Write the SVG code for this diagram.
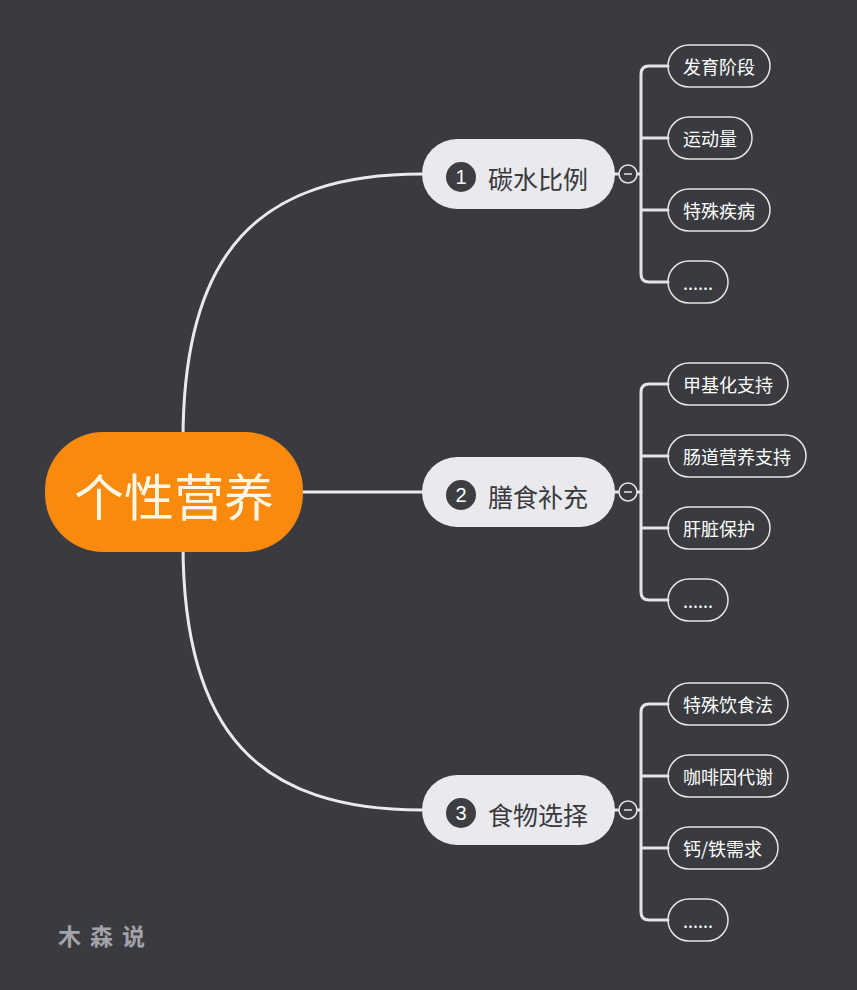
<svg xmlns="http://www.w3.org/2000/svg" width="857" height="990" viewBox="0 0 857 990">
<style>
.bg{fill:#3a3b40}
.link{fill:none;stroke:#e9e9ee;stroke-width:3;stroke-linecap:round}
.br{fill:none;stroke:#e4e4e8;stroke-width:3;stroke-linecap:round}
.root rect{fill:#fa8a0e}
.root text{fill:#fff8e6;font-family:"Noto Sans CJK SC","Noto Sans",sans-serif;font-size:50px;text-anchor:middle}
.main rect{fill:#e9e9ee}
.main circle{fill:#3d3e43}
.num{fill:#ffffff;font-family:"Liberation Sans",sans-serif;font-size:20px;text-anchor:middle}
.mt{fill:#3a3a3f;font-family:"Noto Sans CJK SC","Noto Sans",sans-serif;font-size:25px}
.col circle{fill:#3a3b40;stroke:#e4e4e8;stroke-width:1.5}
.col line{stroke:#e4e4e8;stroke-width:1.5}
.leaf rect{fill:none;stroke:#e4e4e8;stroke-width:1.5}
.leaf text{fill:#ffffff;font-family:"Noto Sans CJK SC","Noto Sans",sans-serif;font-size:18px}
.wm{fill:#a2a2a8;font-family:"Noto Sans CJK SC","Noto Sans",sans-serif;font-size:23px;font-weight:bold;letter-spacing:9px}
</style>
<rect class="bg" x="0" y="0" width="857" height="990"/>
<g id="connectors">
  <path class="link" d="M183,440 C183,250 260,174 422,174"/>
  <path class="link" d="M302,492 H422"/>
  <path class="link" d="M183,544 C183,734 260,810 422,810"/>
  <path class="br" d="M615,174 H620 M637,174 H641"/>
  <path class="br" d="M668,66 H649 Q641,66 641,74 V274 Q641,282 649,282 H668 M641,138 H668 M641,210 H668"/>
  <path class="br" d="M615,492 H620 M637,492 H641"/>
  <path class="br" d="M668,384 H649 Q641,384 641,392 V592 Q641,600 649,600 H668 M641,456 H668 M641,528 H668"/>
  <path class="br" d="M615,810 H620 M637,810 H641"/>
  <path class="br" d="M668,704 H649 Q641,704 641,712 V912 Q641,920 649,920 H668 M641,776 H668 M641,848 H668"/>
</g>
<g id="root" class="root">
  <rect x="45" y="432" width="258" height="120" rx="58"/>
  <text x="174" y="516">个性营养</text>
</g>
<g id="b1" class="main">
  <rect x="422" y="139" width="193" height="70" rx="35"/>
  <circle cx="461" cy="177" r="15"/>
  <text class="num" x="461" y="184">1</text>
  <text class="mt" x="488" y="189">碳水比例</text>
</g>
<g id="b2" class="main">
  <rect x="422" y="457" width="193" height="70" rx="35"/>
  <circle cx="461" cy="495" r="15"/>
  <text class="num" x="461" y="502">2</text>
  <text class="mt" x="488" y="507">膳食补充</text>
</g>
<g id="b3" class="main">
  <rect x="422" y="775" width="193" height="70" rx="35"/>
  <circle cx="461" cy="813" r="15"/>
  <text class="num" x="461" y="820">3</text>
  <text class="mt" x="488" y="825">食物选择</text>
</g>
<g id="c1" class="col"><circle cx="628" cy="174" r="9"/><line x1="624" y1="174" x2="632" y2="174"/></g>
<g id="c2" class="col"><circle cx="628" cy="492" r="9"/><line x1="624" y1="492" x2="632" y2="492"/></g>
<g id="c3" class="col"><circle cx="628" cy="810" r="9"/><line x1="624" y1="810" x2="632" y2="810"/></g>
<g id="l11" class="leaf"><rect x="668" y="45" width="102" height="42" rx="21"/><text x="683" y="74">发育阶段</text></g>
<g id="l12" class="leaf"><rect x="668" y="117" width="84" height="42" rx="21"/><text x="683" y="146">运动量</text></g>
<g id="l13" class="leaf"><rect x="668" y="189" width="102" height="42" rx="21"/><text x="683" y="218">特殊疾病</text></g>
<g id="l14" class="leaf"><rect x="668" y="261" width="60" height="42" rx="21"/><text x="683" y="290">......</text></g>
<g id="l21" class="leaf"><rect x="668" y="363" width="120" height="42" rx="21"/><text x="683" y="392">甲基化支持</text></g>
<g id="l22" class="leaf"><rect x="668" y="435" width="138" height="42" rx="21"/><text x="683" y="464">肠道营养支持</text></g>
<g id="l23" class="leaf"><rect x="668" y="507" width="102" height="42" rx="21"/><text x="683" y="536">肝脏保护</text></g>
<g id="l24" class="leaf"><rect x="668" y="579" width="60" height="42" rx="21"/><text x="683" y="608">......</text></g>
<g id="l31" class="leaf"><rect x="668" y="683" width="120" height="42" rx="21"/><text x="683" y="712">特殊饮食法</text></g>
<g id="l32" class="leaf"><rect x="668" y="755" width="120" height="42" rx="21"/><text x="683" y="784">咖啡因代谢</text></g>
<g id="l33" class="leaf"><rect x="668" y="827" width="110" height="42" rx="21"/><text x="683" y="856">钙/铁需求</text></g>
<g id="l34" class="leaf"><rect x="668" y="899" width="60" height="42" rx="21"/><text x="683" y="928">......</text></g>
<text class="wm" x="58" y="945">木森说</text>
</svg>
